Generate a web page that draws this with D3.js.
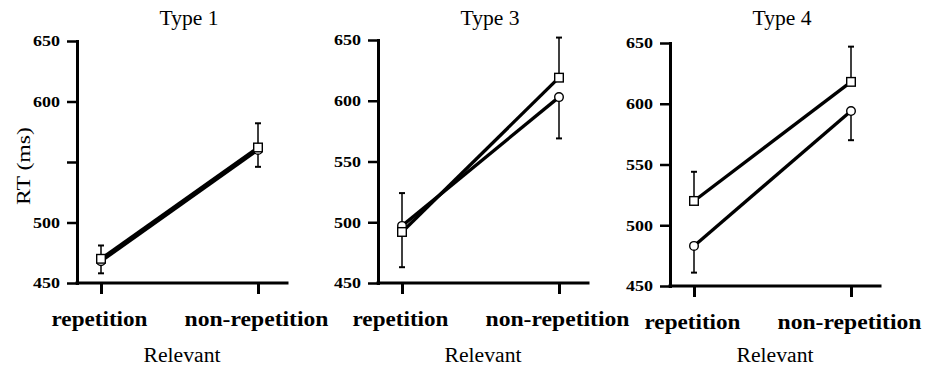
<!DOCTYPE html>
<html>
<head>
<meta charset="utf-8">
<script src="https://cdn.jsdelivr.net/npm/d3@7"></script>
<style>
  body { margin: 0; background: #fff; }
  text { font-family: "Liberation Serif", "Times New Roman", serif; fill: #000; }
</style>
</head>
<body>
<div class="chart"></div>
<script>
// values (RT in ms)
const titles = ["Type 1", "Type 3", "Type 4"];
const conditions = ["repetition", "non-repetition"];
const yTicks = [450, 500, 550, 600, 650];

// square series (mean, error bar drawn upward)
const squareMean = [[470, 562], [492, 619], [520, 618]];
const squareErr  = [[11, 20], [32, 33], [24, 29]];
// circle series (mean, error bar drawn downward)
const circleMean = [[468, 560], [497, 603], [483, 594]];
const circleErr  = [[10, 14], [34, 34], [22, 24]];

const W = 929, H = 377;
const panelLeft = [77, 378, 670];
const panelTop = [41, 40, 43];
const panelBottom = [283, 283, 286];
const axisLen = 210;

var svg = d3.select(".chart").append("svg")
  .attr("width", W)
  .attr("height", H);

// y axis label, first panel only
svg.append("text")
  .attr("transform", "translate(30,166) rotate(-90)")
  .attr("text-anchor", "middle")
  .style("font-size", "18px")
  .attr("textLength", 78)
  .attr("lengthAdjust", "spacingAndGlyphs")
  .text("RT (ms)");

titles.forEach((title, i) => {
  var g = svg.append("g")
    .attr("transform", "translate(" + panelLeft[i] + ",0)");

  var y = d3.scaleLinear()
    .domain([450, 650])
    .range([panelBottom[i], panelTop[i]]);

  var x = d3.scalePoint()
    .domain(conditions)
    .range([24, 181]);

  // title
  g.append("text")
    .attr("x", 112)
    .attr("y", 25)
    .attr("text-anchor", "middle")
    .style("font-size", "20px")
    .attr("textLength", 59)
    .attr("lengthAdjust", "spacingAndGlyphs")
    .text(title);

  // y axis
  var yAxis = g.append("g")
    .call(d3.axisLeft(y)
      .tickValues(yTicks)
      .tickSize(10)
      .tickSizeOuter(0)
      .tickPadding(7)
      .tickFormat((d) => (i == 0 && d == 550) ? "" : d));
  yAxis.attr("font-family", null).attr("font-size", null);
  yAxis.select(".domain")
    .attr("stroke-width", 3)
    .attr("stroke-linecap", "square");
  yAxis.selectAll(".tick line").attr("stroke-width", 2.5);
  yAxis.selectAll(".tick text")
    .style("font-size", "15px")
    .style("font-weight", "bold")
    .each(function(d) {
      if (this.textContent) {
        d3.select(this).attr("textLength", 27).attr("lengthAdjust", "spacingAndGlyphs");
      }
    });

  // x axis
  var xAxis = g.append("g")
    .attr("transform", "translate(0," + panelBottom[i] + ")")
    .call(d3.axisBottom(x).tickSize(11).tickSizeOuter(0));
  xAxis.attr("font-family", null).attr("font-size", null);
  xAxis.select(".domain")
    .attr("d", "M0,0H" + axisLen)
    .attr("stroke-width", 3)
    .attr("stroke-linecap", "square");
  xAxis.selectAll(".tick line").attr("stroke-width", 3);
  xAxis.selectAll(".tick text")
    .attr("x", -2)
    .attr("y", 43)
    .attr("dy", null)
    .style("font-size", "22px")
    .style("font-weight", "bold")
    .attr("textLength", (d) => d == "repetition" ? 96 : 144)
    .attr("lengthAdjust", "spacingAndGlyphs");

  // x axis title
  g.append("text")
    .attr("x", 105)
    .attr("y", 362)
    .attr("text-anchor", "middle")
    .style("font-size", "20px")
    .attr("textLength", 77)
    .attr("lengthAdjust", "spacingAndGlyphs")
    .text("Relevant");

  var line = d3.line()
    .x((d, j) => x(conditions[j]))
    .y((d) => y(d));

  // lines
  [circleMean[i], squareMean[i]].forEach((vals) => {
    g.append("path")
      .datum(vals)
      .attr("d", line)
      .attr("fill", "none")
      .attr("stroke", "#000")
      .attr("stroke-width", 3.3);
  });

  // error bars: squares up, circles down
  var bars = [];
  conditions.forEach((c, j) => {
    bars.push({ x: x(c), y0: squareMean[i][j], y1: squareMean[i][j] + squareErr[i][j] });
    bars.push({ x: x(c), y0: circleMean[i][j], y1: circleMean[i][j] - circleErr[i][j] });
  });
  g.selectAll(".err")
    .data(bars)
    .enter().append("line")
    .attr("class", "err")
    .attr("x1", (d) => d.x)
    .attr("x2", (d) => d.x)
    .attr("y1", (d) => y(d.y0))
    .attr("y2", (d) => y(d.y1))
    .attr("stroke", "#000")
    .attr("stroke-width", 1.5);
  g.selectAll(".cap")
    .data(bars)
    .enter().append("line")
    .attr("class", "cap")
    .attr("x1", (d) => d.x - 3)
    .attr("x2", (d) => d.x + 3)
    .attr("y1", (d) => y(d.y1))
    .attr("y2", (d) => y(d.y1))
    .attr("stroke", "#000")
    .attr("stroke-width", 2);

  // markers
  g.selectAll(".circ")
    .data(circleMean[i])
    .enter().append("circle")
    .attr("class", "circ")
    .attr("cx", (d, j) => x(conditions[j]))
    .attr("cy", (d) => y(d))
    .attr("r", 4.3)
    .attr("fill", "#fff")
    .attr("stroke", "#000")
    .attr("stroke-width", 1.4);
  g.selectAll(".sq")
    .data(squareMean[i])
    .enter().append("rect")
    .attr("class", "sq")
    .attr("x", (d, j) => x(conditions[j]) - 4.3)
    .attr("y", (d) => y(d) - 4.3)
    .attr("width", 8.6)
    .attr("height", 8.6)
    .attr("fill", "#fff")
    .attr("stroke", "#000")
    .attr("stroke-width", 1.4);
});
</script>
</body>
</html>
